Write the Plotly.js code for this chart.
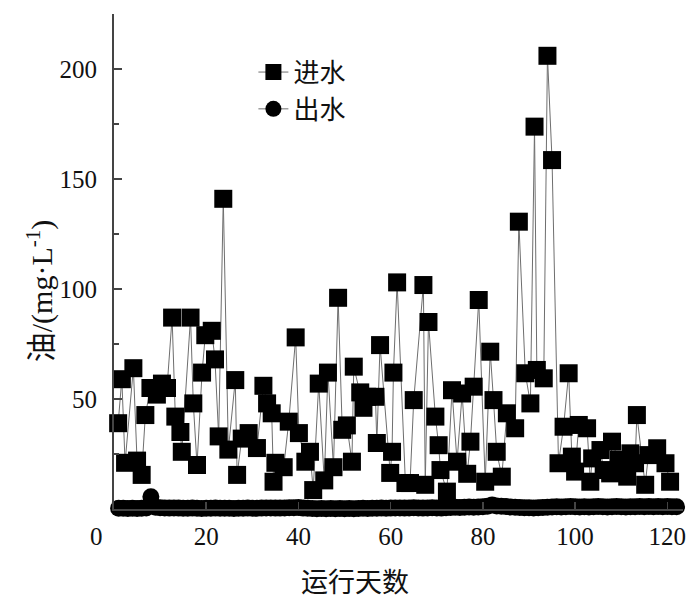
<!DOCTYPE html>
<html>
<head>
<meta charset="utf-8">
<script src="https://cdn.plot.ly/plotly-3.0.1.min.js"></script>
<style>html,body{margin:0;padding:0;background:#fff;}#chart{width:687px;height:600px;}</style>
</head>
<body>
<div id="chart"></div>
<script>
// 进水 (inlet) — day and oil concentration (mg/L)
const inDays = [0.9,1.7,2.4,4.2,5,6,6.8,7.9,9.3,10.4,11.5,12.6,13.3,14.4,14.7,16.6,17.2,18,19.1,19.8,
  21.2,21.9,22.7,23.7,24.8,26.3,26.7,27.7,29.2,31,32.4,33.2,34.2,34.6,35,36.8,37.9,39.4,40.1,41.5,
  42.5,43.2,44.4,45.6,46.4,47.6,48.6,49.5,50.5,51.6,52,53.4,54.1,54.9,56.7,57,57.7,59.9,60.3,60.6,
  61.4,63.2,64.2,65,67.1,67.5,68.2,69.7,70.4,70.8,72.2,73.3,74.4,75.5,76.6,77.3,78,79.1,80.5,81.6,
  82.3,83,84.1,85.2,87,87.8,89.2,90.3,91.2,91.7,93.2,94,95,96.4,97.5,98.6,99.3,100,100.8,102.6,
  103.3,103.7,105.5,106.2,107.6,108,109.4,111.3,112,113,113.4,115.2,115.9,117.8,119.6,120.6];
const inOil = [39,59,21,64,22,15.5,42.7,55,52,57,55,87,42,35,26,87,48,20,62,79,
  81,68,33,141,27,58.6,15.5,32,34.5,27.7,56,48,43.5,12.4,21,19,39.7,78,34.5,21.5,
  26,8.6,57,13,62,19,96,36,38,21.5,64.7,53,46,51,51,30,74.5,16.4,26,62,
  103,11.8,11.8,49.5,101.8,11,85,42,29,17.7,7.9,54,21.5,52.5,16,30.6,55.6,95,12.4,71.5,
  49.5,26,14.7,43.5,36.7,130.6,61.7,48,173.8,63.2,59.4,206,158.6,20.8,37.4,61.7,23.8,17,38.2,36.7,
  12.4,23,26.8,17.7,16.2,30.6,22.3,14.7,25.3,20.8,42.7,11,24.5,27.6,20.8,12.4];

// 出水 (outlet)
const outDays = [1,2,3,4,5,6,7,8,9,10,11,12,13,14,15,16,17,18,19,20,21,22,23,24,25,26,27,28,29,30,
  31,32,33,34,35,36,37,38,39,40,41,42,43,44,45,46,47,48,49,50,51,52,53,54,55,56,57,58,59,60,
  61,62,63,64,65,66,67,68,69,70,71,72,73,74,75,76,77,78,79,80,81,82,83,84,85,86,87,88,89,90,
  91,92,93,94,95,96,97,98,99,100,101,102,103,104,105,106,107,108,109,110,111,112,113,114,115,116,117,118,119,120,121,122];
const outOil = [0.3,0.3,0.2,0.3,0.2,0.3,0.5,5.6,0.8,0.6,0.5,0.4,0.5,0.4,0.3,0.3,0.4,0.3,0.2,0.3,0.3,0.4,0.3,0.3,0.3,0.2,0.3,0.3,0.4,0.3,
  0.3,0.4,0.5,0.5,0.4,0.4,0.5,0.6,0.6,0.7,0.4,0.3,0.2,0.1,0.2,0.1,0.2,0.1,0.2,0.1,0.2,0.1,0.2,0.3,0.2,0.3,0.3,0.4,0.3,0.4,
  0.5,0.5,0.4,0.5,0.6,0.5,0.4,0.5,0.6,0.5,0.4,0.6,0.7,0.8,0.7,0.8,0.9,0.8,0.9,1.0,1.2,1.8,1.4,1.2,1.1,0.9,0.8,0.7,0.6,0.6,
  0.5,0.6,0.7,0.8,0.9,1.0,0.9,1.0,1.1,1.0,0.9,1.0,0.9,1.0,1.1,1.0,0.9,1.0,1.1,1.0,0.9,1.0,1.0,1.1,1.0,1.1,1.0,1.1,1.0,1.1,1.0,1.0];

const xTicks = [20,40,60,80,100,120];
const yTicks = [50,100,150,200];

const serif = "'Liberation Serif', 'Times New Roman', 'Noto Sans CJK SC', serif";
const cjk = "'Noto Sans CJK SC', 'Liberation Serif', sans-serif";

const traces = [
  {x: inDays, y: inOil, name: '进水', type: 'scatter', mode: 'lines+markers',
   line: {color: '#6e6e6e', width: 1},
   marker: {symbol: 'square', size: 18, color: '#000'}, cliponaxis: false},
  {x: outDays, y: outOil, name: '出水', type: 'scatter', mode: 'lines+markers',
   line: {color: '#6e6e6e', width: 1},
   marker: {symbol: 'circle', size: 17, color: '#000'}, cliponaxis: false}
];

const layout = {
  width: 687, height: 600,
  margin: {l: 114, r: 4, t: 14, b: 91},
  paper_bgcolor: '#fff', plot_bgcolor: '#fff',
  font: {family: serif, size: 25, color: '#111'},
  showlegend: true,
  legend: {x: 0.245, y: 0.93, xanchor: 'left', yanchor: 'top', bgcolor: 'rgba(0,0,0,0)',
           font: {family: cjk, size: 26, color: '#111'}, tracegroupgap: 0, itemwidth: 30},
  xaxis: {range: [0, 123.4], showgrid: false, zeroline: false,
          showline: true, linecolor: '#444', linewidth: 2,
          ticks: 'inside', ticklen: 7, tickwidth: 1.5, tickcolor: '#444',
          tickvals: xTicks, ticklabelstandoff: 4,
          tickfont: {family: serif, size: 25, color: '#111'}},
  yaxis: {range: [0, 225], showgrid: false, zeroline: false,
          showline: true, linecolor: '#444', linewidth: 2,
          ticks: 'inside', ticklen: 8, tickwidth: 1.5, tickcolor: '#444',
          tickvals: yTicks, ticklabelstandoff: 10,
          minor: {tickvals: [25,75,125,175,225], ticks: 'inside', ticklen: 5, tickwidth: 1.5, tickcolor: '#444'},
          tickfont: {family: serif, size: 25, color: '#111'}},
  annotations: [
    {text: '0', xref: 'paper', yref: 'paper', x: -0.03, y: -0.024, xanchor: 'center', yanchor: 'top',
     showarrow: false, font: {family: serif, size: 25, color: '#111'}},
    {text: '运行天数', xref: 'paper', yref: 'paper', x: 0.424, y: -0.1, xanchor: 'center', yanchor: 'top',
     showarrow: false, font: {family: cjk, size: 27, color: '#111'}},
    {text: '油/(mg·L<sup>-1</sup>)', xref: 'paper', yref: 'paper', x: -0.13, y: 0.44, xanchor: 'center', yanchor: 'middle',
     textangle: -90, showarrow: false, font: {family: serif, size: 30, color: '#111'}}
  ]
};

Plotly.newPlot('chart', traces, layout, {displayModeBar: false, staticPlot: true});
</script>
</body>
</html>
